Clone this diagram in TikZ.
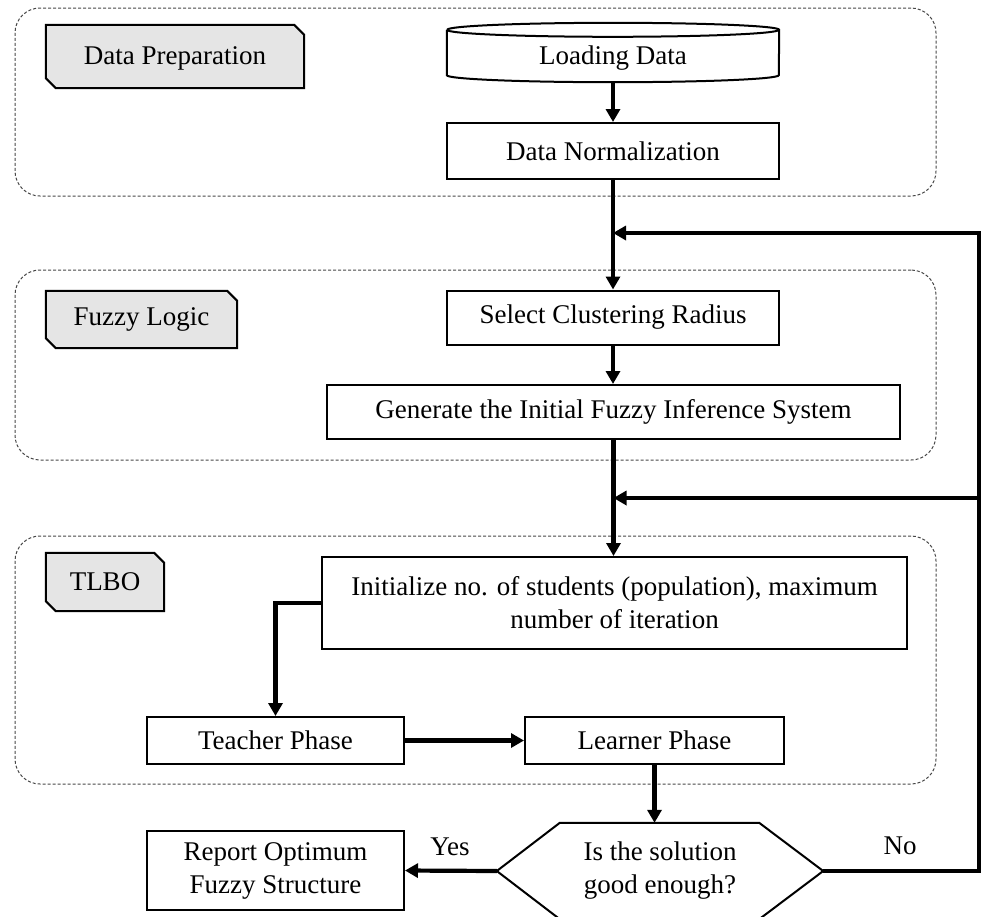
\documentclass[tikz,border=0pt]{standalone}
\usepackage{fontspec}
\setmainfont{Liberation Serif}
\usetikzlibrary{arrows.meta}
\pgfdeclarelayer{background}
\pgfsetlayers{background,main}
\definecolor{tabgray}{RGB}{229,229,229}
\definecolor{dashgray}{RGB}{70,70,70}
\begin{document}
\begin{tikzpicture}[x=1pt,y=-1pt,
  every node/.style={font=\fontsize{27}{33}\selectfont, inner sep=0pt, align=center},
  box/.style={draw=black, line width=2pt, fill=white, rectangle},
  plain/.style={rectangle},
  grp/.style={draw=dashgray, line width=1pt, dash pattern=on 3pt off 2pt, rounded corners=25pt, rectangle},
  tabshape/.style={draw=black, line width=2pt, fill=tabgray, line join=miter},
  outline/.style={draw=black, line width=2pt, fill=white},
  flow/.style={line width=4.2pt, -{Triangle[length=13pt,width=14pt]}},
]
\useasboundingbox (0,0) rectangle (982,916);

% groups
\node[grp, minimum width=921pt, minimum height=188pt] (g1) at (475.5,102) {};
\node[grp, minimum width=921pt, minimum height=190pt] (g2) at (475.5,365) {};
\node[grp, minimum width=921pt, minimum height=248pt] (g3) at (475.5,660) {};

% tabs
\node[plain, minimum width=258pt, minimum height=63pt] (tab1) at (175,56.5) {\raisebox{-2pt}[\height][\depth]{Data Preparation}};
\node[plain, minimum width=191pt, minimum height=57pt] (tab2) at (141.5,319.5) {Fuzzy Logic};
\node[plain, minimum width=118pt, minimum height=58pt] (tab3) at (105,582) {TLBO};

% process nodes
\node[plain, minimum width=332pt, minimum height=59pt] (load) at (613,52.5) {\raisebox{-6pt}[\height][\depth]{Loading Data}};
\node[box, minimum width=332pt, minimum height=56pt] (norm) at (613,151) {Data Normalization};
\node[box, minimum width=332pt, minimum height=54pt] (select) at (613,317.5) {Select Clustering Radius};
\node[box, minimum width=573pt, minimum height=54pt] (gen) at (613.5,412) {Generate the Initial Fuzzy Inference System};
\node[box, minimum width=585pt, minimum height=92pt] (init) at (614.5,603) {Initialize no. of students (population), maximum\\number of iteration};
\node[box, minimum width=257pt, minimum height=47pt] (teacher) at (275.5,740.5) {Teacher Phase};
\node[box, minimum width=259pt, minimum height=47pt] (learner) at (654.5,740.5) {Learner Phase};
\node[plain, minimum width=326pt, minimum height=96pt] (dec) at (660,871) {Is the solution\\good enough?};
\node[box, minimum width=257pt, minimum height=79pt] (report) at (275.5,870.5) {Report Optimum\\Fuzzy Structure};

\node (yes) at (450,847) {Yes};
\node (no) at (900,846) {No};

\begin{pgfonlayer}{background}
  \foreach \t in {tab1,tab2,tab3}
    \draw[tabshape] (\t.north west) -- ([xshift=-10pt]\t.north east) -- ([yshift=-10pt]\t.north east)
      -- (\t.south east) -- ([xshift=10pt]\t.south west) -- ([yshift=10pt]\t.south west) -- cycle;
  % cylinder
  \draw[outline] ([yshift=-7pt]load.north west) -- ([yshift=7pt]load.south west)
    arc[start angle=180, end angle=360, x radius=166pt, y radius=7pt]
    -- ([yshift=-7pt]load.north east)
    arc[start angle=0, end angle=180, x radius=166pt, y radius=7pt];
  \draw[line width=2pt] ([yshift=-7pt]load.north west)
    arc[start angle=180, end angle=360, x radius=166pt, y radius=7pt];
  % hexagon
  \draw[outline, line join=miter] (dec.west) -- ([xshift=63pt]dec.north west) -- ([xshift=-64pt]dec.north east)
    -- (dec.east) -- ([xshift=-64pt]dec.south east) -- ([xshift=63pt]dec.south west) -- cycle;
\end{pgfonlayer}

% connectors
\coordinate (fb1) at (979,233);
\coordinate (fb2) at (979,498);
\draw[flow] (load.south) -- (norm.north);
\draw[flow] (norm.south) -- (select.north);
\draw[flow] (select.south) -- (select.south |- gen.north);
\draw[flow] (gen.south) -- (gen.south |- init.north);
\draw[flow] (init.west) -| (teacher.north);
\draw[flow] (teacher.east) -- (learner.west);
\draw[flow] (learner.south) -- (learner.south |- dec.north);
\draw[flow] (dec.west) -- (report.east);
\draw[flow] (dec.east) -| (fb1) -- (fb1 -| norm.south);
\draw[flow] (fb2) -- (fb2 -| gen.south);
\end{tikzpicture}
\end{document}
